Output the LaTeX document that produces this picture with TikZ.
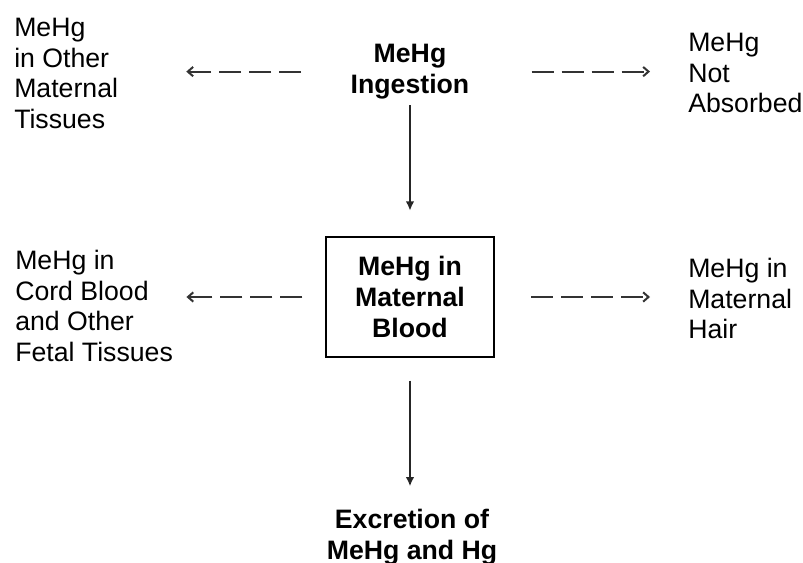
\documentclass[tikz,border=0pt]{standalone}
\usepackage{fontspec}
\setmainfont{Liberation Sans}
\usetikzlibrary{arrows.meta}

\begin{document}
\begin{tikzpicture}[x=0.75pt,y=-0.75pt,
	every node/.style={font=\fontsize{20}{23}\selectfont, inner sep=0pt},
	sidetext/.style={align=left, anchor=north west},
	keytext/.style={align=center, anchor=north, font=\fontsize{20}{23}\selectfont\bfseries},
	bloodbox/.style={draw, line width=1.5pt, align=center, minimum width=126pt, minimum height=90pt, font=\fontsize{20}{23}\selectfont\bfseries},
	flow/.style={-{Latex[length=7pt,width=6.5pt]}, line width=1.5pt, black!85},
	dashflow/.style={-{Straight Barb[length=4pt,width=7pt,line width=1.5pt]}, line width=1.6pt, black!80, dash pattern=on 16.5pt off 6pt}]
	\useasboundingbox (0,0) rectangle (803,563);
	\node[sidetext] at (14,18) (othertis) {MeHg\\in Other\\Maternal\\Tissues};
	\node[keytext] at (410,44) (ingest) {MeHg\\Ingestion};
	\node[sidetext] at (688,33) (notabs) {MeHg\\Not\\Absorbed};
	\node[bloodbox] at (410,297) (blood) {MeHg in\\Maternal\\Blood};
	\node[sidetext] at (15,250) (cordblood) {MeHg in\\Cord Blood\\and Other\\Fetal Tissues};
	\node[sidetext] at (688,258) (hair) {MeHg in\\Maternal\\Hair};
	\node[keytext] at (412,509) (excrete) {Excretion of\\MeHg and Hg};
	\draw[flow, shorten <=4.5pt, shorten >=19pt] (ingest.south) -- (blood.north);
	\draw[flow, shorten <=17pt, shorten >=17pt] (blood.south) -- (excrete.north -| blood.south);
	\draw[dashflow, shorten <=37pt, shorten >=51pt] (ingest.west) -- (ingest.west -| othertis.east);
	\draw[dashflow, shorten <=46.5pt, shorten >=28.5pt] (ingest.east) -- (ingest.east -| notabs.west);
	\draw[dashflow, shorten <=17pt, shorten >=10pt] (blood.west) -- (blood.west -| cordblood.east);
	\draw[dashflow, shorten <=27pt, shorten >=28.5pt] (blood.east) -- (blood.east -| hair.west);
\end{tikzpicture}
\end{document}
